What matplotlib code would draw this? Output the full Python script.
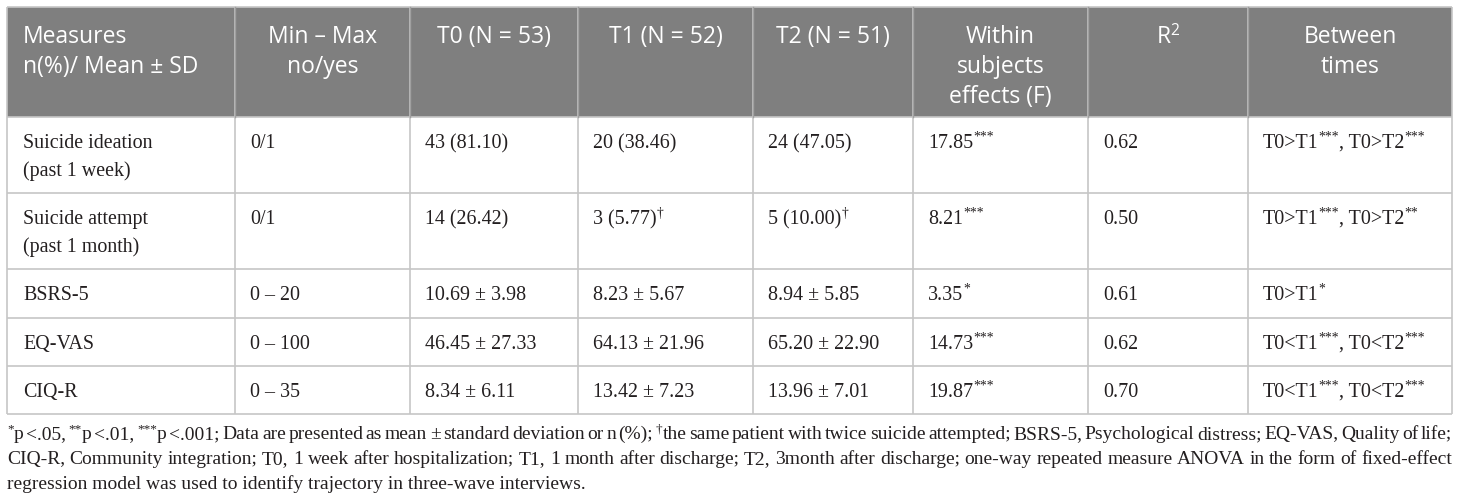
import re
import matplotlib
matplotlib.use("Agg")
import matplotlib.pyplot as plt
from matplotlib.patches import Rectangle

# =============================================================================
#  Table content
# =============================================================================

header = [
    "Measures\nn(%)/ Mean ± SD",
    "Min – Max\nno/yes",
    "T0 (N = 53)",
    "T1 (N = 52)",
    "T2 (N = 51)",
    "Within\nsubjects\neffects (F)",
    "R{2}",
    "Between\ntimes",
]
measures = ["Suicide ideation\n(past 1 week)", "Suicide attempt\n(past 1 month)",
            "BSRS-5", "EQ-VAS", "CIQ-R"]
ranges = ["0/1", "0/1", "0 – 20", "0 – 100", "0 – 35"]
t0 = ["43 (81.10)", "14 (26.42)", "10.69 ± 3.98", "46.45 ± 27.33", "8.34 ± 6.11"]
t1 = ["20 (38.46)", "3 (5.77){†}", "8.23 ± 5.67", "64.13 ± 21.96", "13.42 ± 7.23"]
t2 = ["24 (47.05)", "5 (10.00){†}", "8.94 ± 5.85", "65.20 ± 22.90", "13.96 ± 7.01"]
f_within = ["17.85{***}", "8.21{***}", "3.35{*}", "14.73{***}", "19.87{***}"]
r2 = ["0.62", "0.50", "0.61", "0.62", "0.70"]
between = ["T0>T1{***}, T0>T2{***}", "T0>T1{***}, T0>T2{**}", "T0>T1{*}",
           "T0<T1{***}, T0<T2{***}", "T0<T1{***}, T0<T2{***}"]

footnote = [
    "{*}p <.05, {**}p <.01, {***}p <.001; Data are presented as mean ± standard "
    "deviation or n (%); {†}the same patient with twice suicide attempted; "
    "BSRS-5, Psychological distress; EQ-VAS, Quality of life;",
    "CIQ-R, Community integration; T0, 1 week after hospitalization; T1, 1 month "
    "after discharge; T2, 3month after discharge; one-way repeated measure ANOVA "
    "in the form of fixed-effect",
    "regression model was used to identify trajectory in three-wave interviews.",
]

# =============================================================================
#  Layout (pixels)
# =============================================================================

W, H = 1460, 501
col_x = [7, 235, 410, 578, 753, 913, 1088, 1248, 1452]
row_y = [7, 117, 193, 269, 318, 366, 414]

HEAD_FONT = "Open Sans"
BODY_FONT = "Liberation Serif"
HEAD_SIZE = 16.5
BODY_SIZE = 14.4
FOOT_SIZE = 14
TXT = "#231f20"

fig = plt.figure(figsize=(W / 100, H / 100), dpi=100)
ax = fig.add_axes([0, 0, 1, 1])
ax.set_xlim(0, W)
ax.set_ylim(H, 0)
ax.axis("off")
renderer = fig.canvas.get_renderer()


def parse(s):
    "Split a string into (text, is_superscript) pieces"
    out = []
    for p in re.split(r"(\{[^}]*\})", s):
        if not p:
            continue
        if p.startswith("{"):
            out.append((p[1:-1], True))
        else:
            out.append((p, False))
    return out


def width_of(s, size, family):
    t = ax.text(0, 0, s, fontsize=size, family=family)
    w = t.get_window_extent(renderer).width
    t.remove()
    return w


def draw_line(x, y, s, size, family, color, ha="left"):
    "Draw one line of text with superscripts, baseline at y"
    pieces = parse(s)
    sup_size = size * 0.68
    widths = [width_of(p, sup_size if sup else size, family) for p, sup in pieces]
    total = sum(widths)
    if ha == "center":
        x = x - total / 2
    for (p, sup), w in zip(pieces, widths):
        dy = -size * 100 / 72 * 0.36 if sup else 0
        ax.text(x, y + dy, p, fontsize=sup_size if sup else size, family=family,
                color=color, va="baseline", ha="left")
        x += w


def draw_justified(x0, x1, y, s, size, family, color):
    "Draw a line of words spread to fill x0..x1"
    words = s.split(" ")
    sup_size = size * 0.68
    wlist = []
    for wd in words:
        wlist.append(sum(width_of(p, sup_size if sup else size, family)
                         for p, sup in parse(wd)))
    gap = (x1 - x0 - sum(wlist)) / (len(words) - 1)
    x = x0
    for wd, w in zip(words, wlist):
        draw_line(x, y, wd, size, family, color)
        x += w + gap


# =============================================================================
#  Grid and header background
# =============================================================================

ax.add_patch(Rectangle((col_x[0], row_y[0]), col_x[-1] - col_x[0],
                       row_y[1] - row_y[0], facecolor="#7f7f7f", edgecolor="none"))

line_kw = dict(color="#c6c6c6", lw=1.2, solid_capstyle="butt")
for y in row_y:
    ax.plot([col_x[0], col_x[-1]], [y, y], **line_kw)
for x in col_x:
    ax.plot([x, x], [row_y[0], row_y[-1]], **line_kw)
for x in col_x[1:-1]:
    ax.plot([x, x], [row_y[0], row_y[1]], color="#a0a0a0", lw=1.0)

# =============================================================================
#  Header text
# =============================================================================

for i, label in enumerate(header):
    for j, ln in enumerate(label.split("\n")):
        y = 43 + j * 30
        if i == 0:
            draw_line(col_x[0] + 16, y, ln, HEAD_SIZE, HEAD_FONT, "white")
        else:
            draw_line((col_x[i] + col_x[i + 1]) / 2, y, ln, HEAD_SIZE,
                      HEAD_FONT, "white", ha="center")

# =============================================================================
#  Body text
# =============================================================================

columns = [measures, ranges, t0, t1, t2, f_within, r2, between]
for c, values in enumerate(columns):
    for r, val in enumerate(values):
        for j, ln in enumerate(val.split("\n")):
            pad = 16 if c == 0 else 15
            draw_line(col_x[c] + pad, row_y[r + 1] + 31 + j * 28, ln,
                      BODY_SIZE, BODY_FONT, TXT)

# =============================================================================
#  Footnote
# =============================================================================

for k, ln in enumerate(footnote):
    y = 439 + k * 25
    if k < len(footnote) - 1:
        draw_justified(col_x[0], col_x[-1], y, ln, FOOT_SIZE, BODY_FONT, TXT)
    else:
        draw_line(col_x[0], y, ln, FOOT_SIZE, BODY_FONT, TXT)

fig.savefig("out.png", dpi=100)
